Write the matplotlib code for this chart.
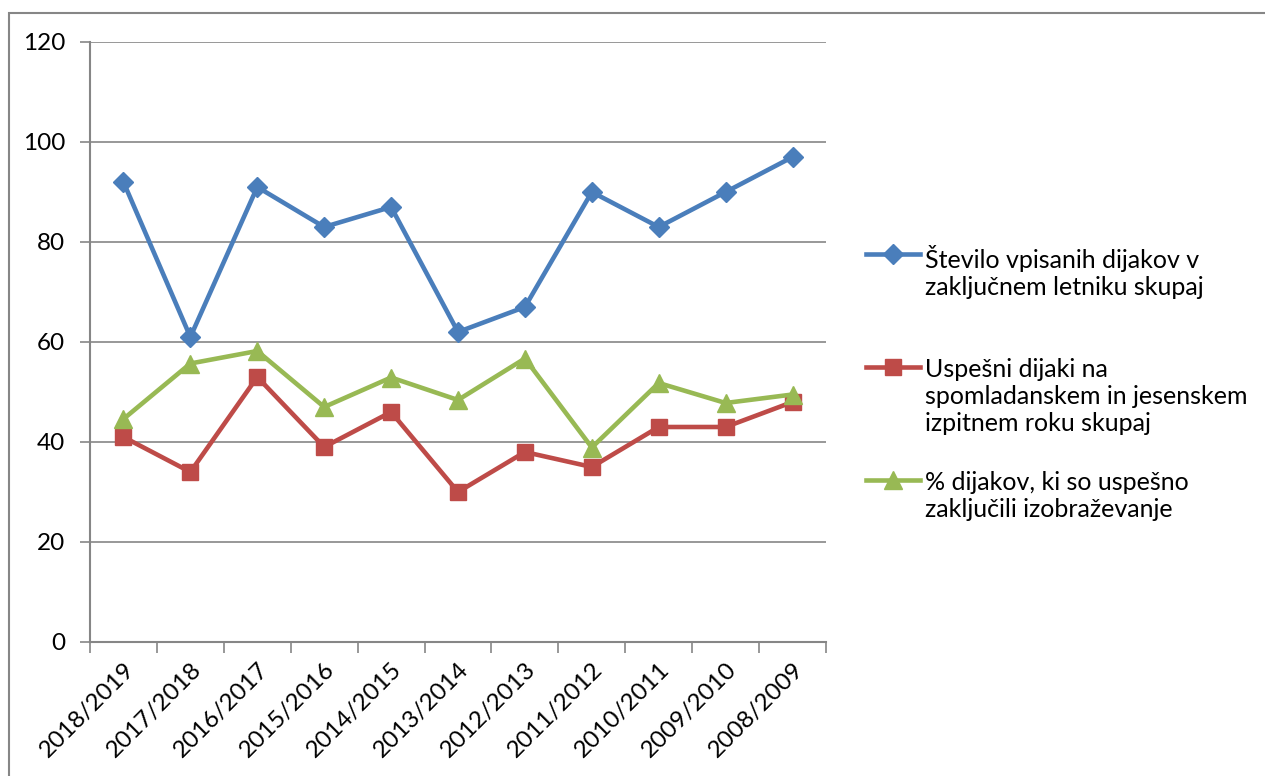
# Line chart: enrolled students, successful students and success rate per school year
import matplotlib.pyplot as plt
from matplotlib.lines import Line2D
from matplotlib.patches import Rectangle

plt.rcParams['font.family'] = ['Lato', 'DejaVu Sans']

# data
years = ['2018/2019', '2017/2018', '2016/2017', '2015/2016', '2014/2015', '2013/2014',
         '2012/2013', '2011/2012', '2010/2011', '2009/2010', '2008/2009']
enrolled = [92, 61, 91, 83, 87, 62, 67, 90, 83, 90, 97]
successful = [41, 34, 53, 39, 46, 30, 38, 35, 43, 43, 48]
percent = [44.6, 55.7, 58.2, 47.0, 52.9, 48.4, 56.7, 38.9, 51.8, 47.8, 49.5]

labels = ['Število vpisanih dijakov v\nzaključnem letniku skupaj',
          'Uspešni dijaki na\nspomladanskem in jesenskem\nizpitnem roku skupaj',
          '% dijakov, ki so uspešno\nzaključili izobraževanje']

blue = '#4A7EBB'
red = '#BE4B48'
green = '#98B954'
grey = '#868686'

W, H = 1265, 776
fig = plt.figure(figsize=(W / 100, H / 100), dpi=100)
ax = fig.add_axes([90 / W, (H - 642) / H, 736 / W, 600 / H])

x = list(range(len(years)))
l1, = ax.plot(x, enrolled, color=blue, linewidth=3.3, marker='D', markersize=10.5)
l2, = ax.plot(x, successful, color=red, linewidth=3.3, marker='s', markersize=11)
l3, = ax.plot(x, percent, color=green, linewidth=3.3, marker='^', markersize=13)

ax.set_ylim(0, 120)
ax.set_yticks(range(0, 121, 20))
ax.set_xlim(-0.5, len(years) - 0.5)
ax.set_xticks(x)
ax.set_xticklabels(years, rotation=45, ha='right', rotation_mode='anchor')
ax.set_xticks([i - 0.5 for i in range(len(years) + 1)], minor=True)
ax.tick_params(axis='x', which='major', length=0, pad=12, labelsize=17.5)
ax.tick_params(axis='x', which='minor', length=8, width=1.2, color=grey)
ax.tick_params(axis='y', length=7, width=1.2, color=grey, labelsize=17.5, pad=11)

ax.grid(axis='y', color=grey, linewidth=1.2)
ax.set_axisbelow(True)
for side in ['top', 'right']:
    ax.spines[side].set_visible(False)
for side in ['left', 'bottom']:
    ax.spines[side].set_color(grey)
    ax.spines[side].set_linewidth(1.5)

# legend drawn by hand so the marker sits on the first text line
entries = [(l1, 254), (l2, 367), (l3, 480)]
for (line, ypx), text in zip(entries, labels):
    yf = 1 - ypx / H
    fig.add_artist(Line2D([866 / W, 920 / W], [yf, yf], color=line.get_color(),
                          linewidth=3.3, transform=fig.transFigure))
    fig.add_artist(Line2D([893 / W], [yf], color=line.get_color(), marker=line.get_marker(),
                          markersize=line.get_markersize(), linestyle='none',
                          transform=fig.transFigure))
    fig.text(925 / W, yf + 9 / H, text, fontsize=18, va='top', ha='left',
             linespacing=1.2)

# outer chart frame
fig.add_artist(Rectangle((9 / W, -0.1), 1.2, 1.1 - 13 / H, transform=fig.transFigure,
                         fill=False, edgecolor=grey, linewidth=1.5))

fig.savefig('out.png', dpi=100)
